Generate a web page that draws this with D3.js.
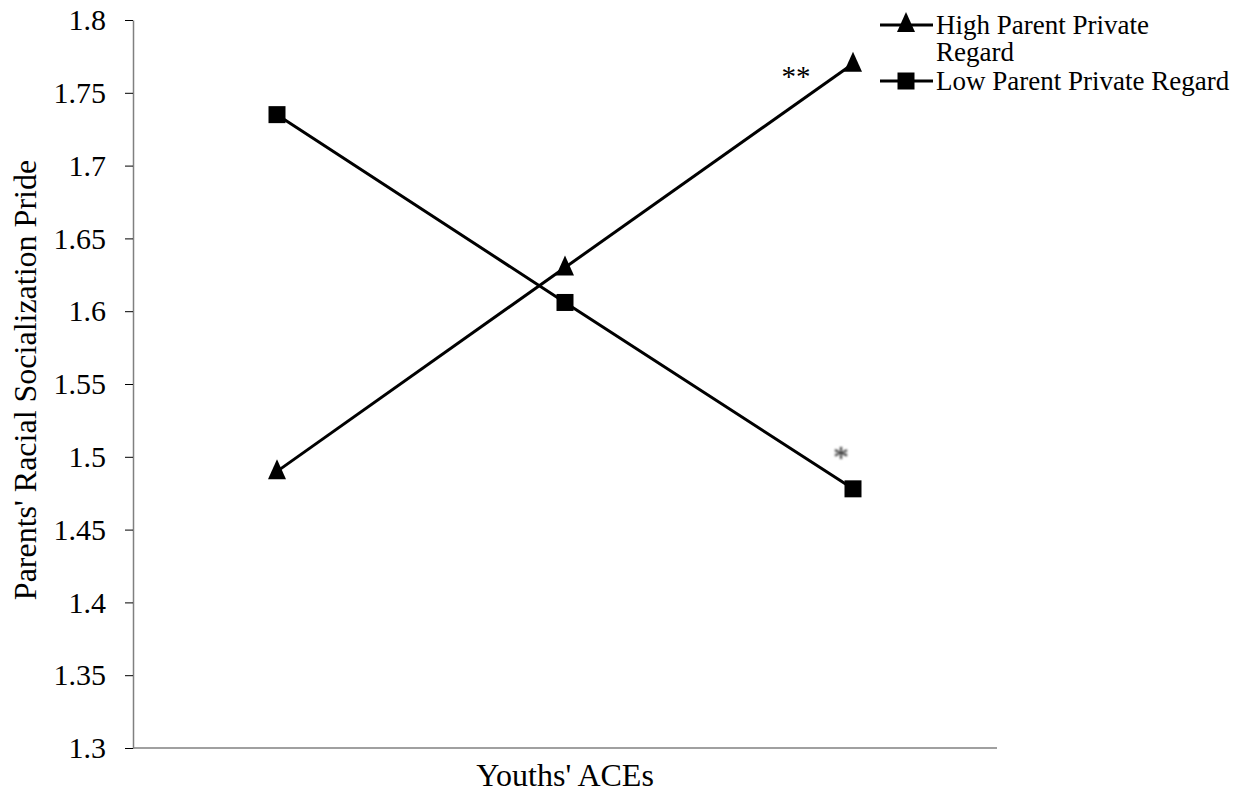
<!DOCTYPE html>
<html>
<head>
<meta charset="utf-8">
<script src="https://cdn.jsdelivr.net/npm/d3@7"></script>
<style>
  body { margin: 0; background: #fff; }
  text { font-family: "Liberation Serif", "Times New Roman", serif; fill: #000; }
</style>
</head>
<body>
<script>
// data
var categories = ['1', '2', '3'];
var highValues = [1.49, 1.63, 1.77];
var lowValues = [1.735, 1.606, 1.478];
var yTicks = [1.3, 1.35, 1.4, 1.45, 1.5, 1.55, 1.6, 1.65, 1.7, 1.75, 1.8];
var seriesNames = ['High Parent Private Regard', 'Low Parent Private Regard'];

var svg = d3.select('body').append('svg')
  .attr('width', 1236)
  .attr('height', 794);

var x = d3.scalePoint().domain(categories).range([133, 997]).padding(0.5);
var y = d3.scaleLinear().domain([1.3, 1.8]).range([748, 20]);

// y axis
var yAxis = svg.append('g')
  .attr('transform', 'translate(133,0)')
  .call(d3.axisLeft(y).tickValues(yTicks).tickSize(8).tickSizeOuter(0)
    .tickFormat(function(d) { return String(+d.toFixed(2)); }))
  .attr('font-family', '"Liberation Serif", serif')
  .attr('font-size', 30);
yAxis.select('.domain').attr('stroke', '#808080').attr('stroke-width', 1.5);
yAxis.selectAll('.tick line').attr('stroke', '#000').attr('stroke-width', 1);
yAxis.selectAll('.tick text')
  .attr('x', -27)
  .attr('fill', '#000');

// x axis (no labels)
svg.append('line')
  .attr('x1', 133).attr('x2', 997)
  .attr('y1', y(1.3)).attr('y2', y(1.3))
  .attr('stroke', '#808080').attr('stroke-width', 1.5);

// axis titles
svg.append('text')
  .attr('x', 565).attr('y', 786)
  .attr('text-anchor', 'middle')
  .style('font-size', '32px')
  .text("Youths' ACEs");

svg.append('text')
  .attr('transform', 'translate(36,' + 380 + ') rotate(-90)')
  .attr('text-anchor', 'middle')
  .style('font-size', '32px')
  .text("Parents' Racial Socialization Pride");

var line = d3.line()
  .x(function(d, i) { return x(categories[i]); })
  .y(function(d) { return y(d); });

// triangle marker, a bit taller than wide
var tri = 'M0,-12L9,8L-9,8Z';
var sq = d3.symbol().type(d3.symbolSquare).size(289);

// high series
svg.append('path').datum(highValues)
  .attr('d', line).attr('fill', 'none').attr('stroke', '#000').attr('stroke-width', 3);
svg.selectAll('.hi').data(highValues).enter().append('path')
  .attr('class', 'hi')
  .attr('d', tri)
  .attr('transform', function(d, i) { return 'translate(' + x(categories[i]) + ',' + y(d) + ')'; })
  .attr('fill', '#000');

// low series
svg.append('path').datum(lowValues)
  .attr('d', line).attr('fill', 'none').attr('stroke', '#000').attr('stroke-width', 3);
svg.selectAll('.lo').data(lowValues).enter().append('path')
  .attr('class', 'lo')
  .attr('d', sq)
  .attr('transform', function(d, i) { return 'translate(' + x(categories[i]) + ',' + y(d) + ')'; })
  .attr('fill', '#000');

// significance marks
svg.append('text')
  .attr('x', 796).attr('y', 86)
  .attr('text-anchor', 'middle')
  .style('font-size', '29px')
  .text('**');
svg.append('text')
  .attr('x', 841).attr('y', 468)
  .attr('text-anchor', 'middle')
  .style('font-size', '32px')
  .style('fill', '#222')
  .style('filter', 'blur(0.8px)')
  .text('*');

// legend
var leg = svg.append('g');
leg.append('line').attr('x1', 880).attr('x2', 933).attr('y1', 25).attr('y2', 25)
  .attr('stroke', '#000').attr('stroke-width', 3);
leg.append('path').attr('d', tri).attr('transform', 'translate(906,24)').attr('fill', '#000');
leg.append('text').attr('x', 936).attr('y', 34).style('font-size', '27px').text('High Parent Private');
leg.append('text').attr('x', 936).attr('y', 61).style('font-size', '27px').text('Regard');

leg.append('line').attr('x1', 880).attr('x2', 933).attr('y1', 81).attr('y2', 81)
  .attr('stroke', '#000').attr('stroke-width', 3);
leg.append('path').attr('d', sq).attr('transform', 'translate(906,81)').attr('fill', '#000');
leg.append('text').attr('x', 936).attr('y', 90).style('font-size', '27px').text(seriesNames[1]);
</script>
</body>
</html>
